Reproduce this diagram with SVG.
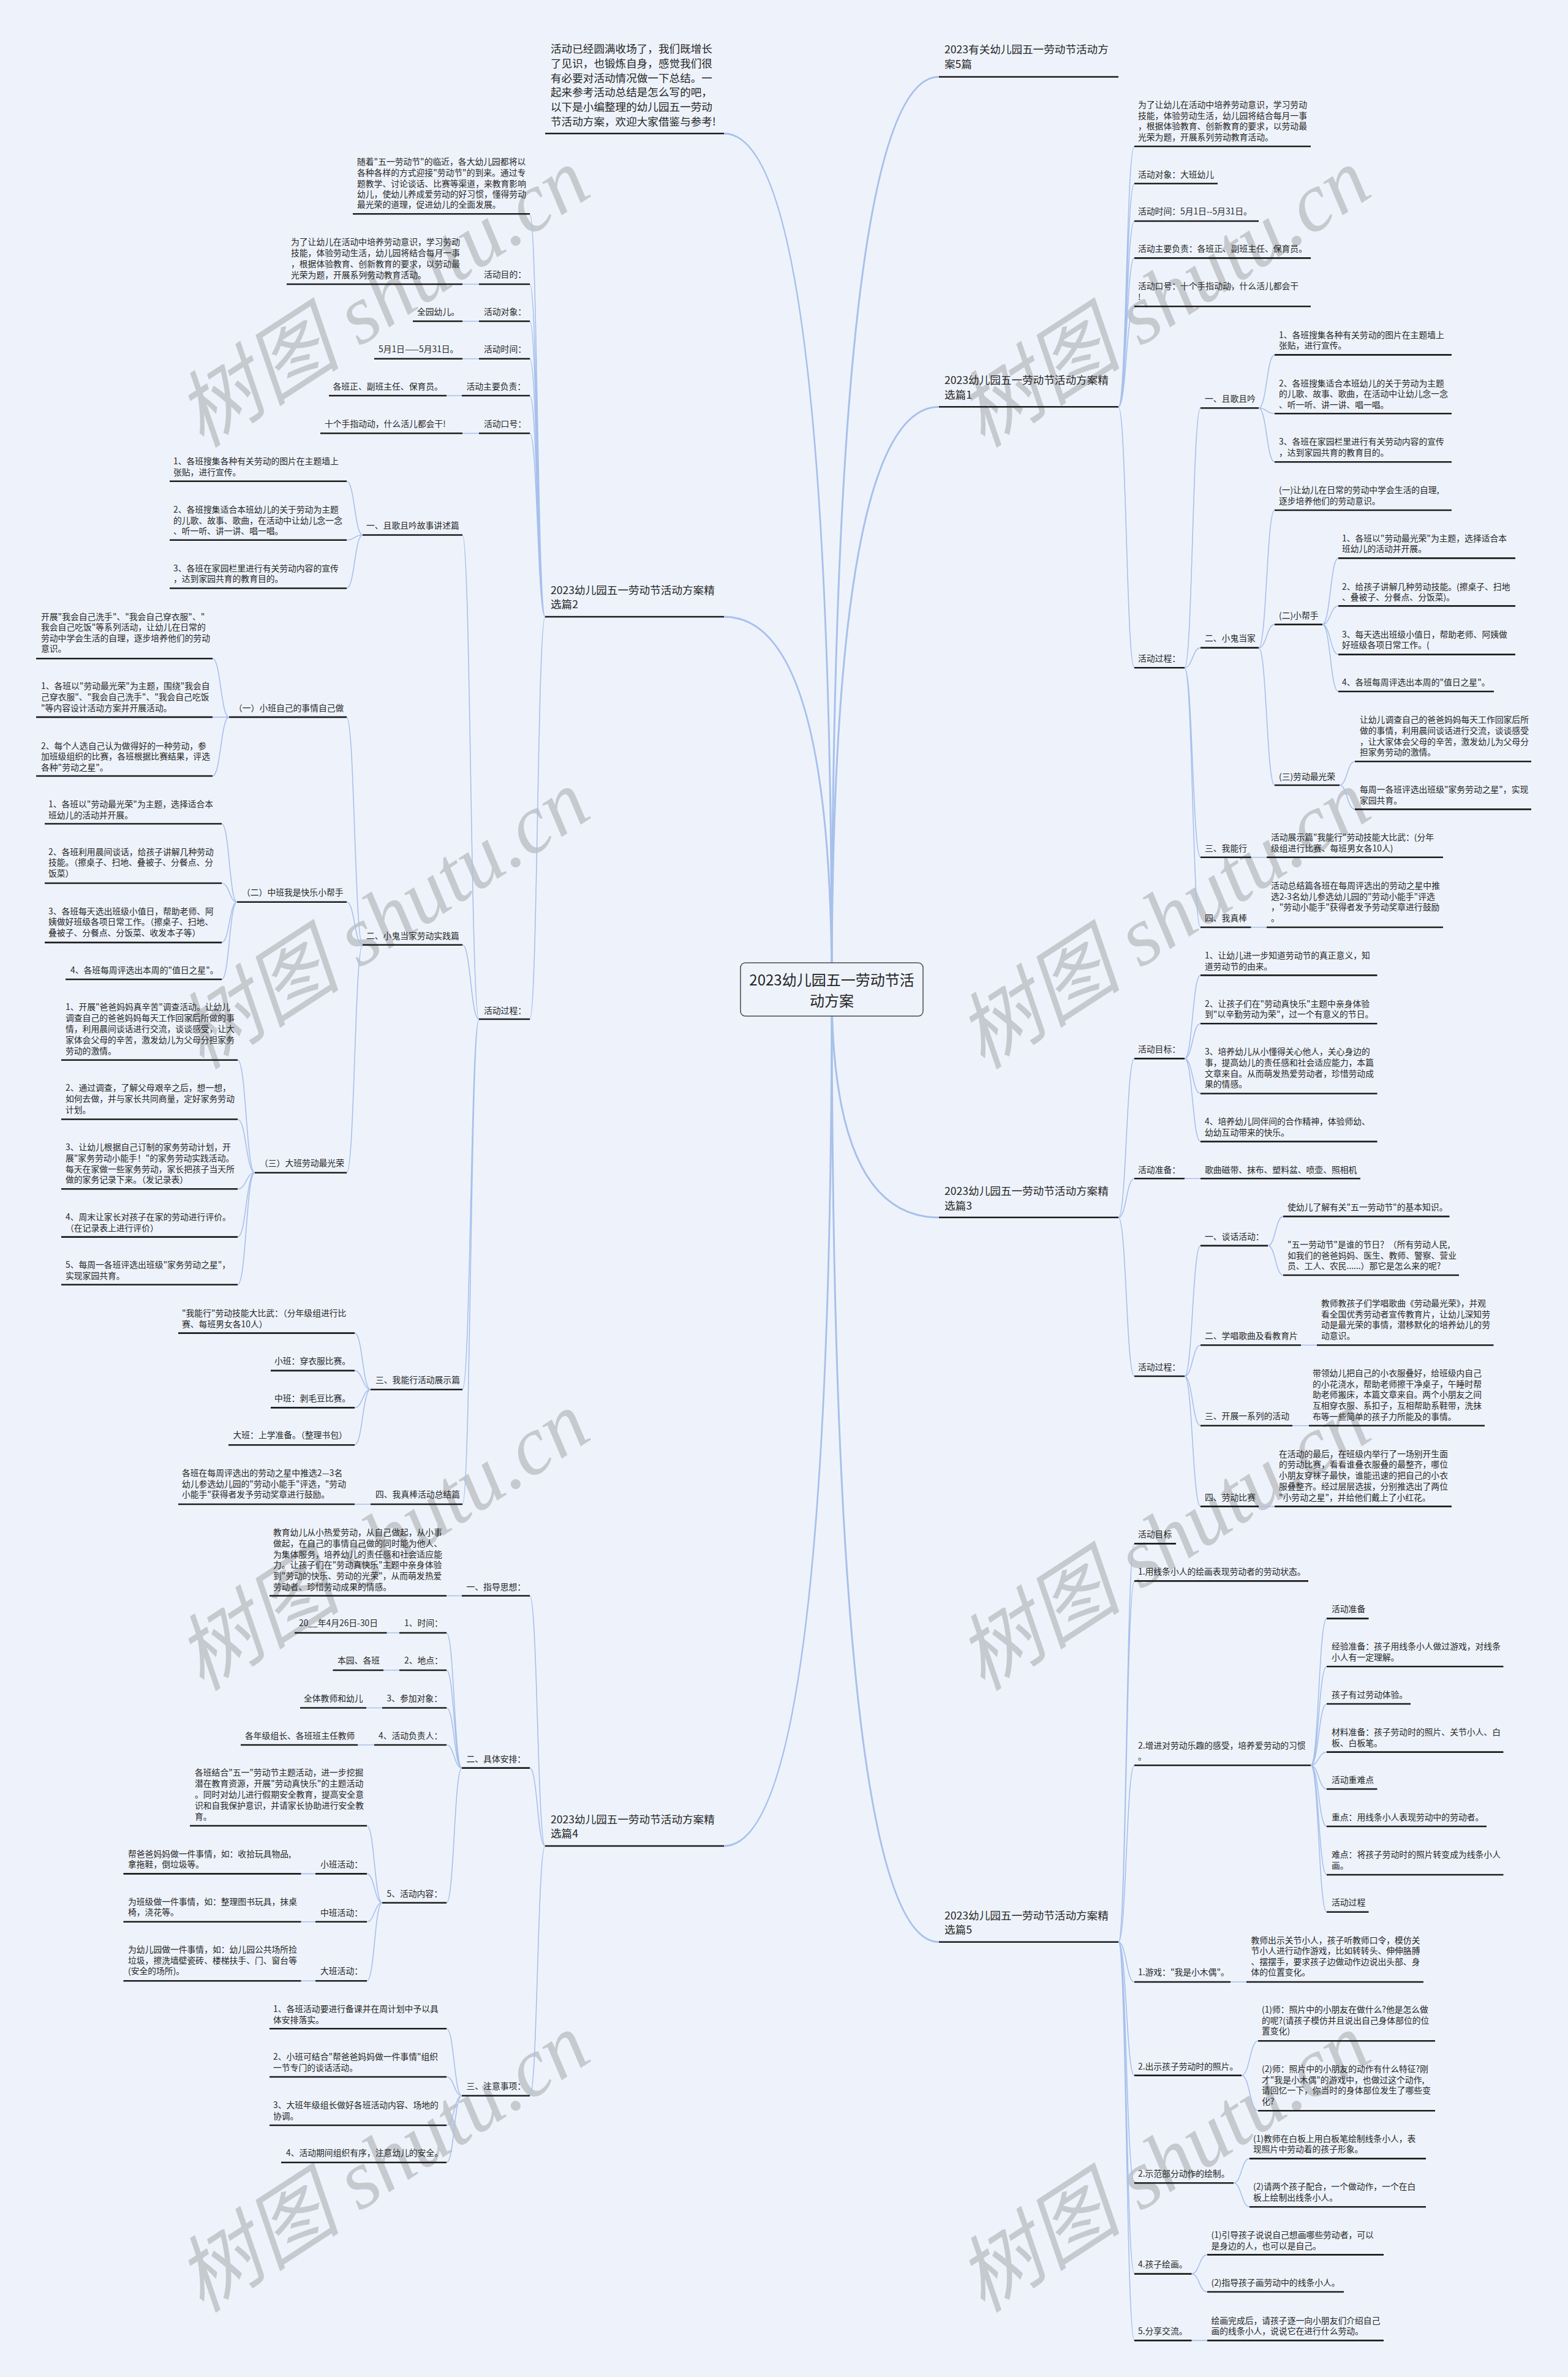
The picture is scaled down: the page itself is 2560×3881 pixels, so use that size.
<svg xmlns="http://www.w3.org/2000/svg" width="2560" height="3881" viewBox="0 0 2560 3881">
<style>
.t{font-family:"Noto Sans CJK SC","Noto Sans",sans-serif;font-size:13.8px;fill:#262626}
.h{font-size:17.6px}
.ct{font-size:24px;text-anchor:middle}
.u{stroke:#1c1c1c;stroke-width:2.6}
.c{fill:none;stroke:#a8c0ec;stroke-width:1.6}
.m{fill:none;stroke:#a8c0ec;stroke-width:3}
.wm{font-family:"Liberation Serif","Noto Sans CJK SC",serif;font-style:italic;font-size:136px;fill:#c6c9ce}
</style>
<rect width="2560" height="3881" fill="#eef3fb"/>
<g id="watermarks">
<text class="wm" transform="translate(650,525) rotate(-33)" text-anchor="middle">树图 shutu.cn</text>
<text class="wm" transform="translate(650,1540) rotate(-33)" text-anchor="middle">树图 shutu.cn</text>
<text class="wm" transform="translate(650,2555) rotate(-33)" text-anchor="middle">树图 shutu.cn</text>
<text class="wm" transform="translate(650,3570) rotate(-33)" text-anchor="middle">树图 shutu.cn</text>
<text class="wm" transform="translate(1925,525) rotate(-33)" text-anchor="middle">树图 shutu.cn</text>
<text class="wm" transform="translate(1925,1540) rotate(-33)" text-anchor="middle">树图 shutu.cn</text>
<text class="wm" transform="translate(1925,2555) rotate(-33)" text-anchor="middle">树图 shutu.cn</text>
<text class="wm" transform="translate(1925,3570) rotate(-33)" text-anchor="middle">树图 shutu.cn</text>
</g>
<g id="connectors">
<path class="m" d="M1358,1615 Q1358,218 1182,218"/>
<path class="m" d="M1358,1615 Q1358,1007 1182,1007"/>
<path class="m" d="M1358,1615 Q1358,3014 1182,3014"/>
<path class="m" d="M1358,1615 Q1358,125.5 1533,125.5"/>
<path class="m" d="M1358,1615 Q1358,664.3 1533,664.3"/>
<path class="m" d="M1358,1615 Q1358,1987.8 1533,1987.8"/>
<path class="m" d="M1358,1615 Q1358,3170.8 1533,3170.8"/>
<path class="c" d="M890,1007 C877.5,1007 877.5,349.3 865,349.3 M890,1007 C877.5,1007 877.5,464 865,464 M890,1007 C877.5,1007 877.5,524.5 865,524.5 M890,1007 C877.5,1007 877.5,585.8 865,585.8 M890,1007 C877.5,1007 877.5,646 865,646 M890,1007 C877.5,1007 877.5,707.5 865,707.5 M890,1007 C877.5,1007 877.5,1664 865,1664"/>
<path class="c" d="M782,464 L755,464 M782,524.5 L755,524.5 M782,585.8 L755,585.8 M754,646 L729,646 M782,707.5 L755,707.5"/>
<path class="c" d="M782,1664 C768.5,1664 768.5,873.5 755,873.5 M782,1664 C768.5,1664 768.5,1542.8 755,1542.8 M782,1664 C768.5,1664 768.5,2268.7 755,2268.7 M782,1664 C768.5,1664 768.5,2456 755,2456"/>
<path class="c" d="M592,873.5 C579,873.5 579,785.7 566,785.7 M592,873.5 C579,873.5 579,881.8 566,881.8 M592,873.5 C579,873.5 579,960.5 566,960.5"/>
<path class="c" d="M592,1542.8 C579,1542.8 579,1170.9 566,1170.9 M592,1542.8 C579,1542.8 579,1472.8 566,1472.8 M592,1542.8 C579,1542.8 579,1914.8 566,1914.8"/>
<path class="c" d="M374,1170.9 C360.5,1170.9 360.5,1075.2 347,1075.2 M374,1170.9 L347,1170.9 M374,1170.9 C360.5,1170.9 360.5,1267 347,1267"/>
<path class="c" d="M387,1472.8 C374.5,1472.8 374.5,1345 362,1345 M387,1472.8 C374.5,1472.8 374.5,1442 362,1442 M387,1472.8 C374.5,1472.8 374.5,1538.9 362,1538.9 M387,1472.8 C374.5,1472.8 374.5,1599 362,1599"/>
<path class="c" d="M416,1914.8 C402,1914.8 402,1730.7 388,1730.7 M416,1914.8 C402,1914.8 402,1827.5 388,1827.5 M416,1914.8 C402,1914.8 402,1941.3 388,1941.3 M416,1914.8 C402,1914.8 402,2019.6 388,2019.6 M416,1914.8 C402,1914.8 402,2097.5 388,2097.5"/>
<path class="c" d="M605,2268.7 C592,2268.7 592,2176.6 579,2176.6 M605,2268.7 C592,2268.7 592,2237.9 579,2237.9 M605,2268.7 C592,2268.7 592,2298.4 579,2298.4 M605,2268.7 C592,2268.7 592,2359.2 579,2359.2 M605,2456 L579,2456"/>
<path class="c" d="M890,3014 C877.5,3014 877.5,2605.5 865,2605.5 M890,3014 C877.5,3014 877.5,2886.6 865,2886.6 M890,3014 C877.5,3014 877.5,3421.7 865,3421.7 M754,2605.5 L729,2605.5"/>
<path class="c" d="M754,2886.6 C741.5,2886.6 741.5,2666 729,2666 M754,2886.6 C741.5,2886.6 741.5,2727 729,2727 M754,2886.6 C741.5,2886.6 741.5,2788.5 729,2788.5 M754,2886.6 C741.5,2886.6 741.5,2849 729,2849 M754,2886.6 C741.5,2886.6 741.5,3106.8 729,3106.8"/>
<path class="c" d="M652,2666 L631.5,2666 M652,2727 L626,2727 M624,2788.5 L598,2788.5 M611,2849 L584,2849"/>
<path class="c" d="M624,3106.8 C611.5,3106.8 611.5,2981 599,2981 M624,3106.8 C611.5,3106.8 611.5,3059.4 599,3059.4 M624,3106.8 C611.5,3106.8 611.5,3137.7 599,3137.7 M624,3106.8 C611.5,3106.8 611.5,3234.3 599,3234.3 M515,3059.4 L491.5,3059.4 M515,3137.7 L491.5,3137.7 M515,3234.3 L491.5,3234.3"/>
<path class="c" d="M754,3421.7 C741.5,3421.7 741.5,3312.3 729,3312.3 M754,3421.7 C741.5,3421.7 741.5,3391 729,3391 M754,3421.7 C741.5,3421.7 741.5,3470 729,3470 M754,3421.7 C741.5,3421.7 741.5,3530.7 729,3530.7"/>
<path class="c" d="M1826,664.3 C1839,664.3 1839,239 1852,239 M1826,664.3 C1839,664.3 1839,299.8 1852,299.8 M1826,664.3 C1839,664.3 1839,361 1852,361 M1826,664.3 C1839,664.3 1839,421.4 1852,421.4 M1826,664.3 C1839,664.3 1839,500.2 1852,500.2 M1826,664.3 C1839,664.3 1839,1090.2 1852,1090.2"/>
<path class="c" d="M1934,1090.2 C1947,1090.2 1947,666.3 1960,666.3 M1934,1090.2 C1947,1090.2 1947,1057.6 1960,1057.6 M1934,1090.2 C1947,1090.2 1947,1399.8 1960,1399.8 M1934,1090.2 C1947,1090.2 1947,1514 1960,1514"/>
<path class="c" d="M2055,666.3 C2068,666.3 2068,579.4 2081,579.4 M2055,666.3 C2068,666.3 2068,675.3 2081,675.3 M2055,666.3 C2068,666.3 2068,754.3 2081,754.3"/>
<path class="c" d="M2055,1057.6 C2068,1057.6 2068,833 2081,833 M2055,1057.6 C2068,1057.6 2068,1019.6 2081,1019.6 M2055,1057.6 C2068,1057.6 2068,1282 2081,1282"/>
<path class="c" d="M2159,1019.6 C2172,1019.6 2172,911.4 2185,911.4 M2159,1019.6 C2172,1019.6 2172,989.4 2185,989.4 M2159,1019.6 C2172,1019.6 2172,1068.6 2185,1068.6 M2159,1019.6 C2172,1019.6 2172,1129 2185,1129"/>
<path class="c" d="M2187,1282 C2199.5,1282 2199.5,1243.3 2212,1243.3 M2187,1282 C2199.5,1282 2199.5,1321.4 2212,1321.4 M2042.5,1399.8 L2068,1399.8 M2042.5,1514 L2068,1514"/>
<path class="c" d="M1826,1987.8 C1839,1987.8 1839,1728.4 1852,1728.4 M1826,1987.8 C1839,1987.8 1839,1924.3 1852,1924.3 M1826,1987.8 C1839,1987.8 1839,2247 1852,2247"/>
<path class="c" d="M1934,1728.4 C1947,1728.4 1947,1592.4 1960,1592.4 M1934,1728.4 C1947,1728.4 1947,1671.2 1960,1671.2 M1934,1728.4 C1947,1728.4 1947,1785.5 1960,1785.5 M1934,1728.4 C1947,1728.4 1947,1863.9 1960,1863.9 M1934,1924.3 L1960,1924.3"/>
<path class="c" d="M1934,2247 C1947,2247 1947,2033.9 1960,2033.9 M1934,2247 C1947,2247 1947,2196.3 1960,2196.3 M1934,2247 C1947,2247 1947,2327.8 1960,2327.8 M1934,2247 C1947,2247 1947,2459.6 1960,2459.6"/>
<path class="c" d="M2070,2033.9 C2082.5,2033.9 2082.5,1986.1 2095,1986.1 M2070,2033.9 C2082.5,2033.9 2082.5,2082 2095,2082 M2124,2196.3 L2150,2196.3 M2110,2327.8 L2137,2327.8 M2055,2459.6 L2081,2459.6"/>
<path class="c" d="M1826,3170.8 C1839,3170.8 1839,2520.4 1852,2520.4 M1826,3170.8 C1839,3170.8 1839,2581.4 1852,2581.4 M1826,3170.8 C1839,3170.8 1839,2882.2 1852,2882.2 M1826,3170.8 C1839,3170.8 1839,3236 1852,3236 M1826,3170.8 C1839,3170.8 1839,3388.6 1852,3388.6 M1826,3170.8 C1839,3170.8 1839,3564.3 1852,3564.3 M1826,3170.8 C1839,3170.8 1839,3712.6 1852,3712.6 M1826,3170.8 C1839,3170.8 1839,3821.4 1852,3821.4"/>
<path class="c" d="M2140,2882.2 C2153,2882.2 2153,2642.6 2166,2642.6 M2140,2882.2 C2153,2882.2 2153,2721 2166,2721 M2140,2882.2 C2153,2882.2 2153,2782 2166,2782 M2140,2882.2 C2153,2882.2 2153,2860.6 2166,2860.6 M2140,2882.2 C2153,2882.2 2153,2921 2166,2921 M2140,2882.2 C2153,2882.2 2153,2982 2166,2982 M2140,2882.2 C2153,2882.2 2153,3061 2166,3061 M2140,2882.2 C2153,2882.2 2153,3121.8 2166,3121.8"/>
<path class="c" d="M2009,3236 L2035,3236 M2027,3388.6 C2040.5,3388.6 2040.5,3332.3 2054,3332.3 M2027,3388.6 C2040.5,3388.6 2040.5,3446.3 2054,3446.3 M2014,3564.3 C2027,3564.3 2027,3524.4 2040,3524.4 M2014,3564.3 C2027,3564.3 2027,3603.3 2040,3603.3"/>
<path class="c" d="M1945.5,3712.6 C1958,3712.6 1958,3681.4 1971,3681.4 M1945.5,3712.6 C1958,3712.6 1958,3742 1971,3742 M1945.5,3821.4 L1971,3821.4"/>
</g>
<g id="center">
<rect x="1209" y="1572" width="298" height="87" rx="8" fill="#eef3fb" stroke="#4a4a4a" stroke-width="1.5"/>
<text class="t ct"><tspan x="1358" y="1609">2023幼儿园五一劳动节活</tspan><tspan x="1358" y="1643">动方案</tspan></text>
</g>
<g id="intro">
<text class="t h"><tspan x="899" y="86.2">活动已经圆满收场了，我们既增长</tspan><tspan x="899" y="109.9">了见识，也锻炼自身，感觉我们很</tspan><tspan x="899" y="133.6">有必要对活动情况做一下总结。一</tspan><tspan x="899" y="157.3">起来参考活动总结是怎么写的吧，</tspan><tspan x="899" y="181.1">以下是小编整理的幼儿园五一劳动</tspan><tspan x="899" y="204.8">节活动方案，欢迎大家借鉴与参考!</tspan></text>
<line class="u" x1="890" y1="218" x2="1182" y2="218"/>
</g>
<g id="p2">
<text class="t h"><tspan x="899" y="970.4">2023幼儿园五一劳动节活动方案精</tspan><tspan x="899" y="992.9">选篇2</tspan></text>
<line class="u" x1="890" y1="1007" x2="1182" y2="1007"/>
</g>
<g id="p2-intro">
<text class="t"><tspan x="583" y="269.3">随着"五一劳动节"的临近，各大幼儿园都将以</tspan><tspan x="583" y="287.1">各种各样的方式迎接"劳动节"的到来。通过专</tspan><tspan x="583" y="304.5">题教学、讨论谈话、比赛等渠道，来教育影响</tspan><tspan x="583" y="321.9">幼儿，使幼儿养成爱劳动的好习惯，懂得劳动</tspan><tspan x="583" y="338.9">最光荣的道理，促进幼儿的全面发展。</tspan></text>
<line class="u" x1="576" y1="349.3" x2="865" y2="349.3"/>
</g>
<g id="p2-goal"><text class="t" x="790" y="453">活动目的：</text><line class="u" x1="782" y1="464" x2="865" y2="464"/></g>
<g id="p2-goal-t">
<text class="t"><tspan x="475" y="400">为了让幼儿在活动中培养劳动意识，学习劳动</tspan><tspan x="475" y="418">技能，体验劳动生活，幼儿园将结合每月一事</tspan><tspan x="475" y="436">，根据体验教育、创新教育的要求，以劳动最</tspan><tspan x="475" y="453.6">光荣为题，开展系列劳动教育活动。</tspan></text>
<line class="u" x1="468" y1="464" x2="755" y2="464"/>
</g>
<g id="p2-obj"><text class="t" x="790" y="513.7">活动对象：</text><line class="u" x1="782" y1="524.5" x2="865" y2="524.5"/></g>
<g id="p2-obj-t"><text class="t" x="681" y="513.7">全园幼儿。</text><line class="u" x1="674" y1="524.5" x2="755" y2="524.5"/></g>
<g id="p2-time"><text class="t" x="790" y="575">活动时间：</text><line class="u" x1="782" y1="585.8" x2="865" y2="585.8"/></g>
<g id="p2-time-t"><text class="t" x="618" y="575">5月1日——5月31日。</text><line class="u" x1="611" y1="585.8" x2="755" y2="585.8"/></g>
<g id="p2-lead"><text class="t" x="761.5" y="636">活动主要负责：</text><line class="u" x1="754" y1="646" x2="865" y2="646"/></g>
<g id="p2-lead-t"><text class="t" x="543.5" y="636">各班正、副班主任、保育员。</text><line class="u" x1="537" y1="646" x2="729" y2="646"/></g>
<g id="p2-slogan"><text class="t" x="790" y="696.6">活动口号：</text><line class="u" x1="782" y1="707.5" x2="865" y2="707.5"/></g>
<g id="p2-slogan-t"><text class="t" x="530" y="696.6">十个手指动动，什么活儿都会干!</text><line class="u" x1="523" y1="707.5" x2="755" y2="707.5"/></g>
<g id="p2-proc"><text class="t" x="790" y="1654.6">活动过程：</text><line class="u" x1="782" y1="1664" x2="865" y2="1664"/></g>
<g id="p2-s1"><text class="t" x="598" y="862.7">一、且歌且吟故事讲述篇</text><line class="u" x1="592" y1="873.5" x2="755" y2="873.5"/></g>
<g id="p2-s1a"><text class="t"><tspan x="283" y="758">1、各班搜集各种有关劳动的图片在主题墙上</tspan><tspan x="283" y="775.7">张贴，进行宣传。</tspan></text><line class="u" x1="277" y1="785.7" x2="566" y2="785.7"/></g>
<g id="p2-s1b"><text class="t"><tspan x="283" y="837">2、各班搜集适合本班幼儿的关于劳动为主题</tspan><tspan x="283" y="854.5">的儿歌、故事、歌曲，在活动中让幼儿念一念</tspan><tspan x="283" y="872">、听一听、讲一讲、唱一唱。</tspan></text><line class="u" x1="277" y1="881.8" x2="566" y2="881.8"/></g>
<g id="p2-s1c"><text class="t"><tspan x="283" y="932.7">3、各班在家园栏里进行有关劳动内容的宣传</tspan><tspan x="283" y="950.2">，达到家园共育的教育目的。</tspan></text><line class="u" x1="277" y1="960.5" x2="566" y2="960.5"/></g>
<g id="p2-s2"><text class="t" x="598" y="1532.8">二、小鬼当家劳动实践篇</text><line class="u" x1="592" y1="1542.8" x2="755" y2="1542.8"/></g>
<g id="p2-g1"><text class="t" x="382" y="1160.5">（一）小班自己的事情自己做</text><line class="u" x1="374" y1="1170.9" x2="566" y2="1170.9"/></g>
<g id="p2-g1a"><text class="t"><tspan x="67" y="1011.8">开展"我会自己洗手"、"我会自己穿衣服"、"</tspan><tspan x="67" y="1029.3">我会自己吃饭"等系列活动，让幼儿在日常的</tspan><tspan x="67" y="1046.8">劳动中学会生活的自理，逐步培养他们的劳动</tspan><tspan x="67" y="1064.4">意识。</tspan></text><line class="u" x1="59" y1="1075.2" x2="347" y2="1075.2"/></g>
<g id="p2-g1b"><text class="t"><tspan x="67" y="1124.9">1、各班以"劳动最光荣"为主题，围绕"我会自</tspan><tspan x="67" y="1142.7">己穿衣服"、"我会自己洗手"、"我会自己吃饭</tspan><tspan x="67" y="1160.5">"等内容设计活动方案并开展活动。</tspan></text><line class="u" x1="59" y1="1170.9" x2="347" y2="1170.9"/></g>
<g id="p2-g1c"><text class="t"><tspan x="67" y="1222.5">2、每个人选自己认为做得好的一种劳动，参</tspan><tspan x="67" y="1240">加班级组织的比赛，各班根据比赛结果，评选</tspan><tspan x="67" y="1257.5">各种"劳动之星"。</tspan></text><line class="u" x1="59" y1="1267" x2="347" y2="1267"/></g>
<g id="p2-g2"><text class="t" x="395" y="1461.6">（二）中班我是快乐小帮手</text><line class="u" x1="387" y1="1472.8" x2="566" y2="1472.8"/></g>
<g id="p2-g2a"><text class="t"><tspan x="79" y="1317.7">1、各班以"劳动最光荣"为主题，选择适合本</tspan><tspan x="79" y="1335.5">班幼儿的活动并开展。</tspan></text><line class="u" x1="73" y1="1345" x2="362" y2="1345"/></g>
<g id="p2-g2b"><text class="t"><tspan x="79" y="1395.6">2、各班利用晨间谈话，给孩子讲解几种劳动</tspan><tspan x="79" y="1413.4">技能。（擦桌子、扫地、叠被子、分餐点、分</tspan><tspan x="79" y="1431.2">饭菜）</tspan></text><line class="u" x1="73" y1="1442" x2="362" y2="1442"/></g>
<g id="p2-g2c"><text class="t"><tspan x="79" y="1492.5">3、各班每天选出班级小值日，帮助老师、阿</tspan><tspan x="79" y="1510.3">姨做好班级各项日常工作。（擦桌子、扫地、</tspan><tspan x="79" y="1528">叠被子、分餐点、分饭菜、收发本子等）</tspan></text><line class="u" x1="73" y1="1538.9" x2="362" y2="1538.9"/></g>
<g id="p2-g2d"><text class="t" x="115" y="1589.4">4、各班每周评选出本周的"值日之星"。</text><line class="u" x1="107" y1="1599" x2="362" y2="1599"/></g>
<g id="p2-g3"><text class="t" x="424" y="1904">（三）大班劳动最光荣</text><line class="u" x1="416" y1="1914.8" x2="566" y2="1914.8"/></g>
<g id="p2-g3a"><text class="t"><tspan x="107" y="1648.7">1、开展"爸爸妈妈真辛苦"调查活动。让幼儿</tspan><tspan x="107" y="1666.8">调查自己的爸爸妈妈每天工作回家后所做的事</tspan><tspan x="107" y="1684.9">情，利用晨间谈话进行交流，谈谈感受，让大</tspan><tspan x="107" y="1703">家体会父母的辛苦，激发幼儿为父母分担家务</tspan><tspan x="107" y="1721">劳动的激情。</tspan></text><line class="u" x1="100" y1="1730.7" x2="388" y2="1730.7"/></g>
<g id="p2-g3b"><text class="t"><tspan x="107" y="1781">2、通过调查，了解父母艰辛之后，想一想，</tspan><tspan x="107" y="1799">如何去做，并与家长共同商量，定好家务劳动</tspan><tspan x="107" y="1816.7">计划。</tspan></text><line class="u" x1="100" y1="1827.5" x2="388" y2="1827.5"/></g>
<g id="p2-g3c"><text class="t"><tspan x="107" y="1878">3、让幼儿根据自己订制的家务劳动计划，开</tspan><tspan x="107" y="1896">展"家务劳动小能手！"的家务劳动实践活动。</tspan><tspan x="107" y="1913.5">每天在家做一些家务劳动，家长把孩子当天所</tspan><tspan x="107" y="1931.3">做的家务记录下来。（发记录表）</tspan></text><line class="u" x1="100" y1="1941.3" x2="388" y2="1941.3"/></g>
<g id="p2-g3d"><text class="t"><tspan x="107" y="1991.8">4、周末让家长对孩子在家的劳动进行评价。</tspan><tspan x="107" y="2009.6">（在记录表上进行评价）</tspan></text><line class="u" x1="100" y1="2019.6" x2="388" y2="2019.6"/></g>
<g id="p2-g3e"><text class="t"><tspan x="107" y="2070">5、每周一各班评选出班级"家务劳动之星"，</tspan><tspan x="107" y="2087.8">实现家园共育。</tspan></text><line class="u" x1="100" y1="2097.5" x2="388" y2="2097.5"/></g>
<g id="p2-s3"><text class="t" x="613" y="2257.9">三、我能行活动展示篇</text><line class="u" x1="605" y1="2268.7" x2="755" y2="2268.7"/></g>
<g id="p2-s3a"><text class="t"><tspan x="297" y="2149">"我能行"劳动技能大比武：（分年级组进行比</tspan><tspan x="297" y="2166.5">赛、每班男女各10人）</tspan></text><line class="u" x1="291" y1="2176.6" x2="579" y2="2176.6"/></g>
<g id="p2-s3b"><text class="t" x="448" y="2227">小班：穿衣服比赛。</text><line class="u" x1="442" y1="2237.9" x2="579" y2="2237.9"/></g>
<g id="p2-s3c"><text class="t" x="448" y="2288.3">中班：剥毛豆比赛。</text><line class="u" x1="442" y1="2298.4" x2="579" y2="2298.4"/></g>
<g id="p2-s3d"><text class="t" x="380.5" y="2348.4">大班：上学准备。（整理书包）</text><line class="u" x1="373" y1="2359.2" x2="579" y2="2359.2"/></g>
<g id="p2-s4"><text class="t" x="613" y="2444.5">四、我真棒活动总结篇</text><line class="u" x1="605" y1="2456" x2="755" y2="2456"/></g>
<g id="p2-s4a"><text class="t"><tspan x="297" y="2410">各班在每周评选出的劳动之星中推选2—3名</tspan><tspan x="297" y="2427.5">幼儿参选幼儿园的"劳动小能手"评选，"劳动</tspan><tspan x="297" y="2445.3">小能手"获得者发予劳动奖章进行鼓励。</tspan></text><line class="u" x1="291" y1="2456" x2="579" y2="2456"/></g>
<g id="p4">
<text class="t h"><tspan x="899" y="2977">2023幼儿园五一劳动节活动方案精</tspan><tspan x="899" y="3000">选篇4</tspan></text>
<line class="u" x1="890" y1="3014" x2="1182" y2="3014"/>
</g>
<g id="p4-q1"><text class="t" x="761.5" y="2595.8">一、指导思想：</text><line class="u" x1="754" y1="2605.5" x2="865" y2="2605.5"/></g>
<g id="p4-q1a"><text class="t"><tspan x="446" y="2506.9">教育幼儿从小热爱劳动，从自己做起，从小事</tspan><tspan x="446" y="2524.7">做起，在自己的事情自己做的同时能为他人、</tspan><tspan x="446" y="2542.5">为集体服务，培养幼儿的责任感和社会适应能</tspan><tspan x="446" y="2560.2">力。让孩子们在"劳动真快乐"主题中亲身体验</tspan><tspan x="446" y="2578">到"劳动的快乐、劳动的光荣"，从而萌发热爱</tspan><tspan x="446" y="2595.8">劳动者、珍惜劳动成果的情感。</tspan></text><line class="u" x1="440" y1="2605.5" x2="729" y2="2605.5"/></g>
<g id="p4-q2"><text class="t" x="761.5" y="2876.6">二、具体安排：</text><line class="u" x1="754" y1="2886.6" x2="865" y2="2886.6"/></g>
<g id="p4-q2a"><text class="t" x="660" y="2655">1、时间：</text><line class="u" x1="652" y1="2666" x2="729" y2="2666"/></g>
<g id="p4-q2a-t"><text class="t" x="488" y="2655">20__年4月26日-30日</text><line class="u" x1="481" y1="2666" x2="631.5" y2="2666"/></g>
<g id="p4-q2b"><text class="t" x="660" y="2716.4">2、地点：</text><line class="u" x1="652" y1="2727" x2="729" y2="2727"/></g>
<g id="p4-q2b-t"><text class="t" x="551" y="2716.4">本园、各班</text><line class="u" x1="543.5" y1="2727" x2="626" y2="2727"/></g>
<g id="p4-q2c"><text class="t" x="631.5" y="2777.7">3、参加对象：</text><line class="u" x1="624" y1="2788.5" x2="729" y2="2788.5"/></g>
<g id="p4-q2c-t"><text class="t" x="496" y="2777.7">全体教师和幼儿</text><line class="u" x1="490" y1="2788.5" x2="598" y2="2788.5"/></g>
<g id="p4-q2d"><text class="t" x="618" y="2839">4、活动负责人：</text><line class="u" x1="611" y1="2849" x2="729" y2="2849"/></g>
<g id="p4-q2d-t"><text class="t" x="400" y="2839">各年级组长、各班班主任教师</text><line class="u" x1="393" y1="2849" x2="584" y2="2849"/></g>
<g id="p4-q2e"><text class="t" x="631.5" y="3096.8">5、活动内容：</text><line class="u" x1="624" y1="3106.8" x2="729" y2="3106.8"/></g>
<g id="p4-q2e1"><text class="t"><tspan x="318" y="2899">各班结合"五一"劳动节主题活动，进一步挖掘</tspan><tspan x="318" y="2917">潜在教育资源，开展"劳动真快乐"的主题活动</tspan><tspan x="318" y="2935">。同时对幼儿进行假期安全教育，提高安全意</tspan><tspan x="318" y="2953">识和自我保护意识，并请家长协助进行安全教</tspan><tspan x="318" y="2971">育。</tspan></text><line class="u" x1="310" y1="2981" x2="599" y2="2981"/></g>
<g id="p4-q2e2"><text class="t" x="523" y="3048.6">小班活动：</text><line class="u" x1="515" y1="3059.4" x2="599" y2="3059.4"/></g>
<g id="p4-q2e2-t"><text class="t"><tspan x="209" y="3031.6">帮爸爸妈妈做一件事情，如：收拾玩具物品,</tspan><tspan x="209" y="3049.4">拿拖鞋，倒垃圾等。</tspan></text><line class="u" x1="201.5" y1="3059.4" x2="491.5" y2="3059.4"/></g>
<g id="p4-q2e3"><text class="t" x="523" y="3127.7">中班活动：</text><line class="u" x1="515" y1="3137.7" x2="599" y2="3137.7"/></g>
<g id="p4-q2e3-t"><text class="t"><tspan x="209" y="3109.5">为班级做一件事情，如：整理图书玩具，抹桌</tspan><tspan x="209" y="3127.3">椅，浇花等。</tspan></text><line class="u" x1="201.5" y1="3137.7" x2="491.5" y2="3137.7"/></g>
<g id="p4-q2e4"><text class="t" x="523" y="3223.3">大班活动：</text><line class="u" x1="515" y1="3234.3" x2="599" y2="3234.3"/></g>
<g id="p4-q2e4-t"><text class="t"><tspan x="209" y="3188.3">为幼儿园做一件事情，如：幼儿园公共场所捡</tspan><tspan x="209" y="3206">垃圾，擦洗墙壁瓷砖、楼梯扶手、门、窗台等</tspan><tspan x="209" y="3223.3">(安全的场所)。</tspan></text><line class="u" x1="201.5" y1="3234.3" x2="491.5" y2="3234.3"/></g>
<g id="p4-q3"><text class="t" x="761.5" y="3411">三、注意事项：</text><line class="u" x1="754" y1="3421.7" x2="865" y2="3421.7"/></g>
<g id="p4-q3a"><text class="t"><tspan x="446" y="3285">1、各班活动要进行备课并在周计划中予以具</tspan><tspan x="446" y="3303">体安排落实。</tspan></text><line class="u" x1="440" y1="3312.3" x2="729" y2="3312.3"/></g>
<g id="p4-q3b"><text class="t"><tspan x="446" y="3363.3">2、小班可结合"帮爸爸妈妈做一件事情"组织</tspan><tspan x="446" y="3381">一节专门的谈话活动。</tspan></text><line class="u" x1="440" y1="3391" x2="729" y2="3391"/></g>
<g id="p4-q3c"><text class="t"><tspan x="446" y="3442.3">3、大班年级组长做好各班活动内容、场地的</tspan><tspan x="446" y="3460">协调。</tspan></text><line class="u" x1="440" y1="3470" x2="729" y2="3470"/></g>
<g id="p4-q3d"><text class="t" x="467" y="3520">4、活动期间组织有序，注意幼儿的安全。</text><line class="u" x1="459" y1="3530.7" x2="729" y2="3530.7"/></g>
<g id="r0">
<text class="t h"><tspan x="1542" y="87.3">2023有关幼儿园五一劳动节活动方</tspan><tspan x="1542" y="111">案5篇</tspan></text>
<line class="u" x1="1533" y1="125.5" x2="1826" y2="125.5"/>
</g>
<g id="r1">
<text class="t h"><tspan x="1542" y="626.9">2023幼儿园五一劳动节活动方案精</tspan><tspan x="1542" y="650.6">选篇1</tspan></text>
<line class="u" x1="1533" y1="664.3" x2="1826" y2="664.3"/>
</g>
<g id="r1-a"><text class="t"><tspan x="1858" y="176.2">为了让幼儿在活动中培养劳动意识，学习劳动</tspan><tspan x="1858" y="193.8">技能，体验劳动生活，幼儿园将结合每月一事</tspan><tspan x="1858" y="211.3">，根据体验教育、创新教育的要求，以劳动最</tspan><tspan x="1858" y="229.3">光荣为题，开展系列劳动教育活动。</tspan></text><line class="u" x1="1852" y1="239" x2="2140" y2="239"/></g>
<g id="r1-b"><text class="t" x="1858" y="289.7">活动对象：大班幼儿</text><line class="u" x1="1852" y1="299.8" x2="1988" y2="299.8"/></g>
<g id="r1-c"><text class="t" x="1858" y="349.7">活动时间：5月1日--5月31日。</text><line class="u" x1="1852" y1="361" x2="2055" y2="361"/></g>
<g id="r1-d"><text class="t" x="1858" y="411.3">活动主要负责：各班正、副班主任、保育员。</text><line class="u" x1="1852" y1="421.4" x2="2140" y2="421.4"/></g>
<g id="r1-e"><text class="t"><tspan x="1858" y="472">活动口号：十个手指动动，什么活儿都会干</tspan><tspan x="1858" y="489.7">!</tspan></text><line class="u" x1="1852" y1="500.2" x2="2140" y2="500.2"/></g>
<g id="r1-f"><text class="t" x="1858" y="1080">活动过程：</text><line class="u" x1="1852" y1="1090.2" x2="1934" y2="1090.2"/></g>
<g id="r1-f1"><text class="t" x="1967" y="656.2">一、且歌且吟</text><line class="u" x1="1960" y1="666.3" x2="2055" y2="666.3"/></g>
<g id="r1-f1a"><text class="t"><tspan x="2088" y="551.7">1、各班搜集各种有关劳动的图片在主题墙上</tspan><tspan x="2088" y="569.3">张贴，进行宣传。</tspan></text><line class="u" x1="2081" y1="579.4" x2="2370" y2="579.4"/></g>
<g id="r1-f1b"><text class="t"><tspan x="2088" y="630.5">2、各班搜集适合本班幼儿的关于劳动为主题</tspan><tspan x="2088" y="648">的儿歌、故事、歌曲，在活动中让幼儿念一念</tspan><tspan x="2088" y="665.5">、听一听、讲一讲、唱一唱。</tspan></text><line class="u" x1="2081" y1="675.3" x2="2370" y2="675.3"/></g>
<g id="r1-f1c"><text class="t"><tspan x="2088" y="725.8">3、各班在家园栏里进行有关劳动内容的宣传</tspan><tspan x="2088" y="743.6">，达到家园共育的教育目的。</tspan></text><line class="u" x1="2081" y1="754.3" x2="2370" y2="754.3"/></g>
<g id="r1-f2"><text class="t" x="1967" y="1047.4">二、小鬼当家</text><line class="u" x1="1960" y1="1057.6" x2="2055" y2="1057.6"/></g>
<g id="r1-f2a"><text class="t"><tspan x="2088" y="804.6">(一)让幼儿在日常的劳动中学会生活的自理,</tspan><tspan x="2088" y="822.5">逐步培养他们的劳动意识。</tspan></text><line class="u" x1="2081" y1="833" x2="2370" y2="833"/></g>
<g id="r1-f2b"><text class="t" x="2088" y="1010.3">(二)小帮手</text><line class="u" x1="2081" y1="1019.6" x2="2159" y2="1019.6"/></g>
<g id="r1-f2b1"><text class="t"><tspan x="2191" y="883.8">1、各班以"劳动最光荣"为主题，选择适合本</tspan><tspan x="2191" y="901.3">班幼儿的活动并开展。</tspan></text><line class="u" x1="2185" y1="911.4" x2="2474" y2="911.4"/></g>
<g id="r1-f2b2"><text class="t"><tspan x="2191" y="962.6">2、给孩子讲解几种劳动技能。(擦桌子、扫地</tspan><tspan x="2191" y="979.7">、叠被子、分餐点、分饭菜)。</tspan></text><line class="u" x1="2185" y1="989.4" x2="2474" y2="989.4"/></g>
<g id="r1-f2b3"><text class="t"><tspan x="2191" y="1040.9">3、每天选出班级小值日，帮助老师、阿姨做</tspan><tspan x="2191" y="1058.2">好班级各项日常工作。(</tspan></text><line class="u" x1="2185" y1="1068.6" x2="2474" y2="1068.6"/></g>
<g id="r1-f2b4"><text class="t" x="2191" y="1118.9">4、各班每周评选出本周的"值日之星"。</text><line class="u" x1="2185" y1="1129" x2="2439" y2="1129"/></g>
<g id="r1-f2c"><text class="t" x="2088" y="1272.8">(三)劳动最光荣</text><line class="u" x1="2081" y1="1282" x2="2187" y2="1282"/></g>
<g id="r1-f2c1"><text class="t"><tspan x="2220" y="1180">让幼儿调查自己的爸爸妈妈每天工作回家后所</tspan><tspan x="2220" y="1198">做的事情，利用晨间谈话进行交流，谈谈感受</tspan><tspan x="2220" y="1215.6">，让大家体会父母的辛苦，激发幼儿为父母分</tspan><tspan x="2220" y="1233">担家务劳动的激情。</tspan></text><line class="u" x1="2212" y1="1243.3" x2="2500" y2="1243.3"/></g>
<g id="r1-f2c2"><text class="t"><tspan x="2220" y="1294.4">每周一各班评选出班级"家务劳动之星"，实现</tspan><tspan x="2220" y="1311.5">家园共育。</tspan></text><line class="u" x1="2212" y1="1321.4" x2="2500" y2="1321.4"/></g>
<g id="r1-f3"><text class="t" x="1967" y="1389.7">三、我能行</text><line class="u" x1="1960" y1="1399.8" x2="2042.5" y2="1399.8"/></g>
<g id="r1-f3a"><text class="t"><tspan x="2075" y="1372">活动展示篇"我能行"劳动技能大比武：(分年</tspan><tspan x="2075" y="1389.7">级组进行比赛、每班男女各10人)</tspan></text><line class="u" x1="2068" y1="1399.8" x2="2356" y2="1399.8"/></g>
<g id="r1-f4"><text class="t" x="1967" y="1503.6">四、我真棒</text><line class="u" x1="1960" y1="1514" x2="2042.5" y2="1514"/></g>
<g id="r1-f4a"><text class="t"><tspan x="2075" y="1451">活动总结篇各班在每周评选出的劳动之星中推</tspan><tspan x="2075" y="1468.9">选2-3名幼儿参选幼儿园的"劳动小能手"评选</tspan><tspan x="2075" y="1486.4">，"劳动小能手"获得者发予劳动奖章进行鼓励</tspan><tspan x="2075" y="1504.3">。</tspan></text><line class="u" x1="2068" y1="1514" x2="2356" y2="1514"/></g>
<g id="r3">
<text class="t h"><tspan x="1542" y="1950.7">2023幼儿园五一劳动节活动方案精</tspan><tspan x="1542" y="1974.5">选篇3</tspan></text>
<line class="u" x1="1533" y1="1987.8" x2="1826" y2="1987.8"/>
</g>
<g id="r3-a"><text class="t" x="1858" y="1718.3">活动目标：</text><line class="u" x1="1852" y1="1728.4" x2="1934" y2="1728.4"/></g>
<g id="r3-a1"><text class="t"><tspan x="1967" y="1564.8">1、让幼儿进一步知道劳动节的真正意义，知</tspan><tspan x="1967" y="1582.6">道劳动节的由来。</tspan></text><line class="u" x1="1960" y1="1592.4" x2="2248.5" y2="1592.4"/></g>
<g id="r3-a2"><text class="t"><tspan x="1967" y="1643.6">2、让孩子们在"劳动真快乐"主题中亲身体验</tspan><tspan x="1967" y="1661.2">到"以辛勤劳动为荣"，过一个有意义的节日。</tspan></text><line class="u" x1="1960" y1="1671.2" x2="2248.5" y2="1671.2"/></g>
<g id="r3-a3"><text class="t"><tspan x="1967" y="1722">3、培养幼儿从小懂得关心他人，关心身边的</tspan><tspan x="1967" y="1739.7">事，提高幼儿的责任感和社会适应能力，本篇</tspan><tspan x="1967" y="1757.6">文章来自。从而萌发热爱劳动者，珍惜劳动成</tspan><tspan x="1967" y="1775.4">果的情感。</tspan></text><line class="u" x1="1960" y1="1785.5" x2="2248.5" y2="1785.5"/></g>
<g id="r3-a4"><text class="t"><tspan x="1967" y="1836.2">4、培养幼儿同伴间的合作精神，体验师幼、</tspan><tspan x="1967" y="1853.8">幼幼互动带来的快乐。</tspan></text><line class="u" x1="1960" y1="1863.9" x2="2248.5" y2="1863.9"/></g>
<g id="r3-b"><text class="t" x="1858" y="1915">活动准备：</text><line class="u" x1="1852" y1="1924.3" x2="1934" y2="1924.3"/></g>
<g id="r3-b1"><text class="t" x="1967" y="1915">歌曲磁带、抹布、塑料盆、喷壶、照相机</text><line class="u" x1="1960" y1="1924.3" x2="2221" y2="1924.3"/></g>
<g id="r3-c"><text class="t" x="1858" y="2236.8">活动过程：</text><line class="u" x1="1852" y1="2247" x2="1934" y2="2247"/></g>
<g id="r3-c1"><text class="t" x="1967" y="2023.8">一、谈话活动：</text><line class="u" x1="1960" y1="2033.9" x2="2070" y2="2033.9"/></g>
<g id="r3-c1a"><text class="t" x="2102" y="1975.6">使幼儿了解有关"五一劳动节"的基本知识。</text><line class="u" x1="2095" y1="1986.1" x2="2366.5" y2="1986.1"/></g>
<g id="r3-c1b"><text class="t"><tspan x="2102" y="2036.8">"五一劳动节"是谁的节日？（所有劳动人民,</tspan><tspan x="2102" y="2054.5">如我们的爸爸妈妈、医生、教师、警察、营业</tspan><tspan x="2102" y="2072.3">员、工人、农民......）那它是怎么来的呢?</tspan></text><line class="u" x1="2095" y1="2082" x2="2382" y2="2082"/></g>
<g id="r3-c2"><text class="t" x="1967" y="2185.8">二、学唱歌曲及看教育片</text><line class="u" x1="1960" y1="2196.3" x2="2124" y2="2196.3"/></g>
<g id="r3-c2a"><text class="t"><tspan x="2157" y="2132.8">教师教孩子们学唱歌曲《劳动最光荣》，并观</tspan><tspan x="2157" y="2150.5">看全国优秀劳动者宣传教育片，让幼儿深知劳</tspan><tspan x="2157" y="2168.2">动是最光荣的事情，潜移默化的培养幼儿的劳</tspan><tspan x="2157" y="2185.8">动意识。</tspan></text><line class="u" x1="2150" y1="2196.3" x2="2438.5" y2="2196.3"/></g>
<g id="r3-c3"><text class="t" x="1967" y="2317.2">三、开展一系列的活动</text><line class="u" x1="1960" y1="2327.8" x2="2110" y2="2327.8"/></g>
<g id="r3-c3a"><text class="t"><tspan x="2143" y="2247">带领幼儿把自己的小衣服叠好，给班级内自己</tspan><tspan x="2143" y="2264.6">的小花浇水，帮助老师擦干净桌子，午睡时帮</tspan><tspan x="2143" y="2282.3">助老师搬床，本篇文章来自。两个小朋友之间</tspan><tspan x="2143" y="2300">互相穿衣服、系扣子，互相帮助系鞋带，洗抹</tspan><tspan x="2143" y="2317.7">布等一些简单的孩子力所能及的事情。</tspan></text><line class="u" x1="2137" y1="2327.8" x2="2424" y2="2327.8"/></g>
<g id="r3-c4"><text class="t" x="1967" y="2449.9">四、劳动比赛</text><line class="u" x1="1960" y1="2459.6" x2="2055" y2="2459.6"/></g>
<g id="r3-c4a"><text class="t"><tspan x="2088" y="2378.5">在活动的最后，在班级内举行了一场别开生面</tspan><tspan x="2088" y="2396.3">的劳动比赛，看看谁叠衣服叠的最整齐，哪位</tspan><tspan x="2088" y="2414.2">小朋友穿袜子最快，谁能迅速的把自己的小衣</tspan><tspan x="2088" y="2432">服叠整齐。经过层层选拔，分别推选出了两位</tspan><tspan x="2088" y="2449.9">"小劳动之星"，并给他们戴上了小红花。</tspan></text><line class="u" x1="2081" y1="2459.6" x2="2370" y2="2459.6"/></g>
<g id="r5">
<text class="t h"><tspan x="1542" y="3133.7">2023幼儿园五一劳动节活动方案精</tspan><tspan x="1542" y="3157">选篇5</tspan></text>
<line class="u" x1="1533" y1="3170.8" x2="1826" y2="3170.8"/>
</g>
<g id="r5-a"><text class="t" x="1858" y="2510.3">活动目标</text><line class="u" x1="1852" y1="2520.4" x2="1920" y2="2520.4"/></g>
<g id="r5-b"><text class="t" x="1858" y="2570.7">1.用线条小人的绘画表现劳动者的劳动状态。</text><line class="u" x1="1852" y1="2581.4" x2="2136" y2="2581.4"/></g>
<g id="r5-c"><text class="t"><tspan x="1858" y="2855">2.增进对劳动乐趣的感受，培养爱劳动的习惯</tspan><tspan x="1858" y="2872.7">。</tspan></text><line class="u" x1="1852" y1="2882.2" x2="2140" y2="2882.2"/></g>
<g id="r5-c1"><text class="t" x="2174" y="2632">活动准备</text><line class="u" x1="2166" y1="2642.6" x2="2234.5" y2="2642.6"/></g>
<g id="r5-c2"><text class="t"><tspan x="2174" y="2693.4">经验准备：孩子用线条小人做过游戏，对线条</tspan><tspan x="2174" y="2711">小人有一定理解。</tspan></text><line class="u" x1="2166" y1="2721" x2="2454.5" y2="2721"/></g>
<g id="r5-c3"><text class="t" x="2174" y="2772">孩子有过劳动体验。</text><line class="u" x1="2166" y1="2782" x2="2303" y2="2782"/></g>
<g id="r5-c4"><text class="t"><tspan x="2174" y="2833">材料准备：孩子劳动时的照片、关节小人、白</tspan><tspan x="2174" y="2850.5">板、白板笔。</tspan></text><line class="u" x1="2166" y1="2860.6" x2="2454.5" y2="2860.6"/></g>
<g id="r5-c5"><text class="t" x="2174" y="2911">活动重难点</text><line class="u" x1="2166" y1="2921" x2="2248.5" y2="2921"/></g>
<g id="r5-c6"><text class="t" x="2174" y="2971.7">重点：用线条小人表现劳动中的劳动者。</text><line class="u" x1="2166" y1="2982" x2="2427" y2="2982"/></g>
<g id="r5-c7"><text class="t"><tspan x="2174" y="3033.4">难点：将孩子劳动时的照片转变成为线条小人</tspan><tspan x="2174" y="3051.2">画。</tspan></text><line class="u" x1="2166" y1="3061" x2="2454.5" y2="3061"/></g>
<g id="r5-c8"><text class="t" x="2174" y="3111">活动过程</text><line class="u" x1="2166" y1="3121.8" x2="2234.5" y2="3121.8"/></g>
<g id="r5-d"><text class="t" x="1858" y="3224.5">1.游戏："我是小木偶"。</text><line class="u" x1="1852" y1="3236" x2="2009" y2="3236"/></g>
<g id="r5-d1"><text class="t"><tspan x="2042.5" y="3173">教师出示关节小人，孩子听教师口令，模仿关</tspan><tspan x="2042.5" y="3190.2">节小人进行动作游戏，比如转转头、伸伸胳膊</tspan><tspan x="2042.5" y="3207.5">、摆摆手，要求孩子边做动作边说出头部、身</tspan><tspan x="2042.5" y="3224.5">体的位置变化。</tspan></text><line class="u" x1="2035" y1="3236" x2="2324" y2="3236"/></g>
<g id="r5-e"><text class="t" x="1858" y="3378.5">2.出示孩子劳动时的照片。</text><line class="u" x1="1852" y1="3388.6" x2="2027" y2="3388.6"/></g>
<g id="r5-e1"><text class="t"><tspan x="2060" y="3286">(1)师：照片中的小朋友在做什么?他是怎么做</tspan><tspan x="2060" y="3303.9">的呢?(请孩子模仿并且说出自己身体部位的位</tspan><tspan x="2060" y="3321.2">置变化)</tspan></text><line class="u" x1="2054" y1="3332.3" x2="2343" y2="3332.3"/></g>
<g id="r5-e2"><text class="t"><tspan x="2060" y="3382.8">(2)师：照片中的小朋友的动作有什么特征?刚</tspan><tspan x="2060" y="3400.6">才"我是小木偶"的游戏中，也做过这个动作,</tspan><tspan x="2060" y="3418.4">请回忆一下，你当时的身体部位发生了哪些变</tspan><tspan x="2060" y="3435.7">化?</tspan></text><line class="u" x1="2054" y1="3446.3" x2="2343" y2="3446.3"/></g>
<g id="r5-f"><text class="t" x="1858" y="3554">2.示范部分动作的绘制。</text><line class="u" x1="1852" y1="3564.3" x2="2014" y2="3564.3"/></g>
<g id="r5-f1"><text class="t"><tspan x="2046" y="3496.8">(1)教师在白板上用白板笔绘制线条小人，表</tspan><tspan x="2046" y="3514.2">现照片中劳动着的孩子形象。</tspan></text><line class="u" x1="2040" y1="3524.4" x2="2328" y2="3524.4"/></g>
<g id="r5-f2"><text class="t"><tspan x="2046" y="3575">(2)请两个孩子配合，一个做动作，一个在白</tspan><tspan x="2046" y="3593">板上绘制出线条小人。</tspan></text><line class="u" x1="2040" y1="3603.3" x2="2328" y2="3603.3"/></g>
<g id="r5-g"><text class="t" x="1858" y="3701.5">4.孩子绘画。</text><line class="u" x1="1852" y1="3712.6" x2="1945.5" y2="3712.6"/></g>
<g id="r5-g1"><text class="t"><tspan x="1977.5" y="3653.8">(1)引导孩子说说自己想画哪些劳动者，可以</tspan><tspan x="1977.5" y="3671.6">是身边的人，也可以是自己。</tspan></text><line class="u" x1="1971" y1="3681.4" x2="2259" y2="3681.4"/></g>
<g id="r5-g2"><text class="t" x="1977.5" y="3732">(2)指导孩子画劳动中的线条小人。</text><line class="u" x1="1971" y1="3742" x2="2194" y2="3742"/></g>
<g id="r5-h"><text class="t" x="1858" y="3810.8">5.分享交流。</text><line class="u" x1="1852" y1="3821.4" x2="1945.5" y2="3821.4"/></g>
<g id="r5-h1"><text class="t"><tspan x="1977.5" y="3793.5">绘画完成后，请孩子逐一向小朋友们介绍自己</tspan><tspan x="1977.5" y="3810.8">画的线条小人，说说它在进行什么劳动。</tspan></text><line class="u" x1="1971" y1="3821.4" x2="2259" y2="3821.4"/></g>
</svg>
